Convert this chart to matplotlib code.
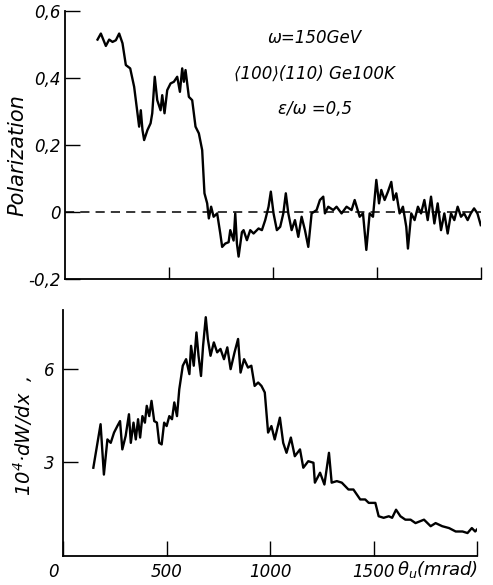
import matplotlib
matplotlib.use('Agg')
import matplotlib.pyplot as plt
from matplotlib.transforms import ScaledTranslation

# ---- data: polarization vs theta_u (mrad)
pol_theta = [156, 172, 196, 212, 228, 244, 260, 276, 292, 313, 332, 348, 356, 364, 372, 380,
             396, 411, 419, 431, 443, 459, 467, 478, 491, 507, 523, 539, 552, 563, 571, 579,
             595, 611, 627, 643, 659, 670, 683, 691, 702, 714, 731, 746, 755, 770, 786, 794,
             810, 818, 826, 834, 850, 858, 874, 890, 906, 930, 946, 962, 978, 989, 1002, 1018,
             1034, 1049, 1061, 1073, 1089, 1105, 1121, 1137, 1153, 1169, 1185, 1209, 1225, 1241,
             1249, 1265, 1289, 1305, 1329, 1353, 1377, 1392, 1416, 1432, 1448, 1464, 1480, 1496,
             1509, 1520, 1536, 1552, 1568, 1579, 1592, 1608, 1624, 1640, 1648, 1664, 1680, 1696,
             1711, 1727, 1743, 1759, 1775, 1791, 1807, 1823, 1839, 1855, 1871, 1887, 1903, 1918,
             1935, 1950, 1966, 1982, 1998]
pol_value = [0.515, 0.533, 0.496, 0.515, 0.508, 0.513, 0.533, 0.504, 0.439, 0.429, 0.374, 0.295,
             0.255, 0.304, 0.245, 0.215, 0.245, 0.265, 0.295, 0.404, 0.334, 0.304, 0.349, 0.295,
             0.364, 0.384, 0.389, 0.404, 0.359, 0.429, 0.389, 0.424, 0.344, 0.334, 0.255, 0.235,
             0.185, 0.056, 0.026, -0.019, 0.016, -0.014, -0.004, -0.064, -0.104, -0.094, -0.090,
             -0.054, -0.085, -0.004, -0.094, -0.133, -0.060, -0.054, -0.084, -0.054, -0.064,
             -0.049, -0.054, -0.024, 0.016, 0.061, -0.004, -0.054, -0.044, -0.004, 0.056, -0.004,
             -0.054, -0.024, -0.074, -0.014, -0.054, -0.104, -0.004, 0.006, 0.036, 0.046, -0.004,
             0.016, 0.006, 0.016, -0.004, 0.016, 0.006, 0.036, -0.014, -0.004, -0.113, -0.004,
             -0.014, 0.096, 0.026, 0.066, 0.036, 0.061, 0.090, 0.036, 0.056, -0.004, 0.016,
             -0.044, -0.109, -0.004, -0.024, 0.016, -0.004, 0.036, -0.024, 0.046, -0.034, 0.026,
             -0.054, -0.004, -0.064, -0.004, -0.024, 0.016, -0.014, -0.004, -0.024, -0.004,
             0.011, -0.004, -0.039]

# ---- data: 10^4 dW/dx vs theta_u (mrad)
dw_theta = [146, 181, 197, 214, 230, 246, 262, 275, 286, 302, 318, 327, 340, 351, 362, 372, 383,
            395, 404, 416, 427, 440, 453, 464, 476, 488, 500, 513, 526, 537, 550, 561, 578, 594,
            610, 618, 631, 644, 654, 666, 676, 689, 699, 712, 728, 744, 760, 777, 793, 809, 828,
            845, 857, 874, 893, 909, 925, 942, 958, 974, 990, 1006, 1022, 1047, 1063, 1079, 1100,
            1119, 1144, 1160, 1184, 1209, 1216, 1241, 1262, 1284, 1297, 1322, 1346, 1378, 1402,
            1435, 1459, 1476, 1508, 1524, 1548, 1573, 1589, 1608, 1629, 1653, 1678, 1702, 1743,
            1775, 1799, 1831, 1864, 1896, 1929, 1953, 1974, 1990, 2001]
dw_value = [2.83, 4.23, 2.61, 3.74, 3.63, 3.96, 4.17, 4.33, 3.42, 3.85, 4.55, 3.63, 4.28, 3.74,
            4.39, 3.80, 4.49, 4.28, 4.82, 4.49, 4.98, 4.33, 4.28, 3.63, 3.58, 4.28, 4.17, 4.49,
            4.39, 4.93, 4.49, 5.35, 6.11, 6.32, 5.84, 6.75, 6.11, 7.18, 6.43, 5.78, 6.75, 7.67,
            6.97, 6.43, 6.86, 6.54, 6.65, 6.32, 6.70, 6.00, 6.54, 6.97, 5.89, 6.32, 6.05, 6.11,
            5.46, 5.57, 5.46, 5.25, 3.96, 4.17, 3.74, 4.44, 3.63, 3.31, 3.80, 3.20, 3.42, 2.83,
            3.04, 2.99, 2.35, 2.67, 2.29, 3.31, 2.35, 2.40, 2.35, 2.13, 2.13, 1.81, 1.81, 1.70,
            1.70, 1.27, 1.22, 1.27, 1.22, 1.48, 1.27, 1.16, 1.16, 1.05, 1.16, 0.95, 1.05, 0.95,
            0.89, 0.78, 0.78, 0.73, 0.89, 0.78, 0.86]

pol_ticks = [-0.2, 0, 0.2, 0.4, 0.6]
pol_ticklabels = ['-0,2', '0', '0,2', '0,4', '0,6']
dw_ticks = [3, 6]
dw_ticklabels = ['3', '6']
x_ticks = [0, 500, 1000, 1500, 2000]
x_ticklabels = ['0', '500', '1000', '1500', '']

plt.rcParams['font.family'] = ['DejaVu Sans']
plt.rcParams['font.style'] = 'italic'
plt.rcParams['mathtext.fontset'] = 'dejavusans'

fig = plt.figure(figsize=(4.93, 5.85), dpi=100)
ax1 = fig.add_axes([0.132, 0.523, 0.844, 0.458])
ax2 = fig.add_axes([0.128, 0.050, 0.840, 0.420])

for ax in (ax1, ax2):
    for s in ('top', 'right'):
        ax.spines[s].set_visible(False)
    for s in ('left', 'bottom'):
        ax.spines[s].set_linewidth(1.3)
    ax.set_xlim(0, 2000)
    ax.tick_params(direction='in', length=11, width=1.0, labelsize=12)

# top panel
ax1.plot(pol_theta, pol_value, color='black', lw=1.7)
ax1.axhline(0, color='black', lw=1.1, ls=(0, (6, 4)))
ax1.set_ylim(-0.2, 0.6)
ax1.set_yticks(pol_ticks)
ax1.set_yticklabels(pol_ticklabels)
ax1.set_xticks(x_ticks[1:])
ax1.set_xticklabels([])
ax1.tick_params(axis='y', pad=3, length=11)
ax1.tick_params(axis='x', length=9)
fig.text(0.035, 0.735, 'Polarization', rotation=90, ha='center', va='center', fontsize=15)
ax1.text(0.60, 0.90, 'ω=150GeV', transform=ax1.transAxes, ha='center', va='center', fontsize=12)
ax1.text(0.60, 0.765, '⟨100⟩(110) Ge100K', transform=ax1.transAxes, ha='center', va='center', fontsize=12)
ax1.text(0.60, 0.635, 'ε/ω =0,5', transform=ax1.transAxes, ha='center', va='center', fontsize=12)

# bottom panel
ax2.plot(dw_theta, dw_value, color='black', lw=1.7)
ax2.set_ylim(0, 7.9)
ax2.set_yticks(dw_ticks)
ax2.set_yticklabels(dw_ticklabels)
ax2.set_xticks(x_ticks)
ax2.set_xticklabels(x_ticklabels)
ax2.tick_params(axis='y', pad=6)
ax2.tick_params(axis='x', pad=5)
zero_lab = ax2.xaxis.get_majorticklabels()[0]
zero_lab.set_transform(zero_lab.get_transform() + ScaledTranslation(-0.10, 0, fig.dpi_scale_trans))
fig.text(0.047, 0.255, '10$^4$·dW/dx  ,', rotation=90, ha='center', va='center', fontsize=14)
fig.text(0.805, 0.026, r'$\theta_u$(mrad)', ha='left', va='center', fontsize=13)

fig.savefig('out.png', dpi=100)
